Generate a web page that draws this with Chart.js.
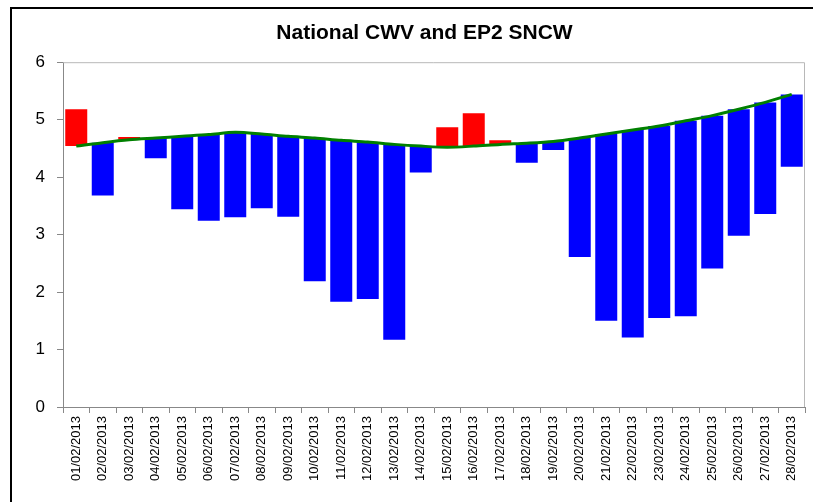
<!DOCTYPE html>
<html>
<head>
<meta charset="utf-8">
<script src="https://cdn.jsdelivr.net/npm/chart.js@4"></script>
<style>
    html, body { margin: 0; padding: 0; background: #fff; overflow: hidden; }
    #wrap { position: relative; width: 813px; height: 502px; }
    #frame {
        position: absolute; left: 10px; top: 7px; width: 900px; height: 600px;
        border-left: 2px solid #000; border-top: 2px solid #000;
    }
    canvas { position: absolute; left: 0; top: 0; }
</style>
</head>
<body>
<div id="wrap">
    <div id="frame"></div>
    <canvas id="chart" width="813" height="502"></canvas>
</div>
<script>
const dates = [
    '01/02/2013', '02/02/2013', '03/02/2013', '04/02/2013', '05/02/2013', '06/02/2013', '07/02/2013',
    '08/02/2013', '09/02/2013', '10/02/2013', '11/02/2013', '12/02/2013', '13/02/2013', '14/02/2013',
    '15/02/2013', '16/02/2013', '17/02/2013', '18/02/2013', '19/02/2013', '20/02/2013', '21/02/2013',
    '22/02/2013', '23/02/2013', '24/02/2013', '25/02/2013', '26/02/2013', '27/02/2013', '28/02/2013'
];
// EP2 seasonal normal CWV (green line)
const sncw = [4.54, 4.60, 4.65, 4.68, 4.71, 4.74, 4.78, 4.75, 4.71, 4.68, 4.64, 4.61, 4.57, 4.54,
              4.52, 4.54, 4.57, 4.59, 4.62, 4.68, 4.75, 4.82, 4.89, 4.98, 5.07, 5.18, 5.30, 5.44];
// National CWV (bar ends)
const cwv = [5.18, 3.68, 4.70, 4.33, 3.44, 3.24, 3.30, 3.46, 3.31, 2.19, 1.83, 1.88, 1.17, 4.08,
             4.87, 5.11, 4.64, 4.25, 4.47, 2.61, 1.50, 1.21, 1.55, 1.58, 2.41, 2.98, 3.36, 4.18];

const FONT = "'Liberation Sans', Arial, sans-serif";

const plotFrame = {
    id: 'plotFrame',
    afterDraw(chart) {
        const { ctx, chartArea: a } = chart;
        ctx.save();
        ctx.strokeStyle = '#b8b8b8';
        ctx.lineWidth = 1;
        ctx.beginPath();
        ctx.moveTo(a.left, a.top + 0.5);
        ctx.lineTo(a.right - 0.5, a.top + 0.5);
        ctx.lineTo(a.right - 0.5, a.bottom);
        ctx.stroke();
        ctx.restore();
    }
};

const barData = dates.map((d, i) => [sncw[i], cwv[i]]);

new Chart(document.getElementById('chart'), {
    type: 'bar',
    data: {
        labels: dates,
        datasets: [{
            type: 'line',
            label: 'SNCW',
            data: sncw,
            borderColor: '#008000',
            borderWidth: 3,
            pointRadius: 0,
            tension: 0.3,
            fill: false,
            order: 0
        }, {
            type: 'bar',
            label: 'CWV',
            data: barData,
            backgroundColor: ctx => {
                const i = ctx.dataIndex;
                return cwv[i] > sncw[i] ? '#ff0000' : '#0000ff';
            },
            borderSkipped: false,
            categoryPercentage: 1,
            barPercentage: 0.83,
            order: 1
        }]
    },
    options: {
        responsive: false,
        animation: false,
        // right padding of -1 centres the title where the original has it;
        // the empty right axis then gives back the space on the right side
        layout: { padding: { left: 35, right: -1, top: 0, bottom: 0 } },
        scales: {
            x: {
                grid: { display: true, drawOnChartArea: false, offset: true, tickLength: 6, color: '#888' },
                border: { color: '#888', width: 1 },
                ticks: {
                    color: '#000',
                    font: { family: FONT, size: 13 },
                    minRotation: 90,
                    maxRotation: 90,
                    autoSkip: false,
                    padding: 3
                },
                afterFit: scale => { scale.height = 95; }
            },
            y: {
                min: 0,
                max: 6,
                grid: { display: true, drawOnChartArea: false, tickLength: 6, color: '#888' },
                border: { color: '#888', width: 1 },
                ticks: {
                    stepSize: 1,
                    color: '#000',
                    font: { family: FONT, size: 17 },
                    padding: 12
                },
                afterFit: scale => { scale.width = 28; }
            },
            yR: {
                position: 'right',
                display: true,
                grid: { display: false },
                border: { display: false },
                ticks: { display: false },
                afterFit: scale => { scale.width = 9; }
            }
        },
        plugins: {
            legend: { display: false },
            tooltip: { enabled: false },
            title: {
                display: true,
                text: 'National CWV and EP2 SNCW',
                color: '#000',
                font: { family: FONT, size: 21, weight: 'bold' },
                padding: { top: 21, bottom: 16 }
            }
        }
    },
    plugins: [plotFrame]
});
</script>
</body>
</html>
